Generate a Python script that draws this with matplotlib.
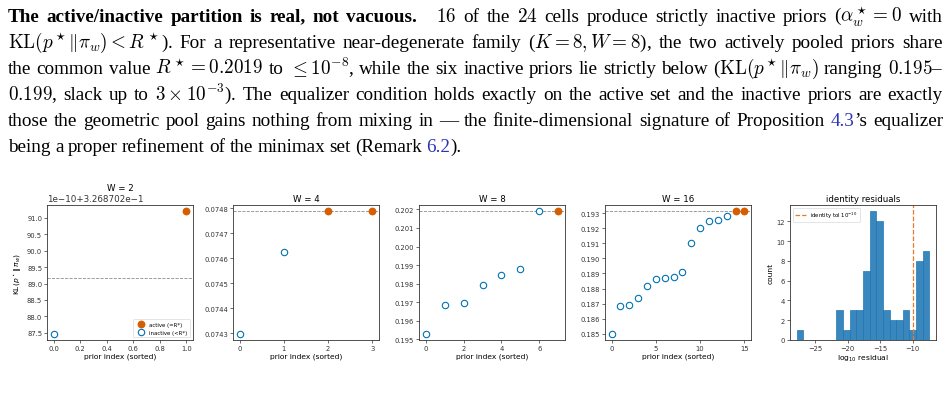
import re
import numpy as np
import matplotlib
matplotlib.use("Agg")
import matplotlib.pyplot as plt
from matplotlib.colors import to_rgba

# ---- data ----
w2_kl = [0.32687020874700, 0.32687020912000]
w2_rstar = 0.32687020891800
w2_active = [False, True]

w4_kl = [0.074297, 0.074624, 0.074789, 0.074789]
w4_rstar = 0.074789
w4_active = [False, False, True, True]

w8_kl = [0.195287, 0.196819, 0.196948, 0.197901, 0.198480, 0.198768, 0.201908, 0.201908]
w8_rstar = 0.201908
w8_active = [False] * 7 + [True]

w16_kl = [0.185000, 0.186861, 0.186928, 0.187347, 0.188145, 0.188636, 0.188680, 0.188747,
          0.189126, 0.191030, 0.192027, 0.192467, 0.192560, 0.192826, 0.193131, 0.193131]
w16_rstar = 0.193131
w16_active = [False] * 14 + [True, True]

resid_edges = np.linspace(-27.8, -7.45, 21)
resid_counts = [1, 0, 0, 0, 0, 0, 3, 1, 3, 3, 7, 13, 12, 3, 2, 2, 3, 1, 8, 9]
tol_log10 = -10

panels = [("W = 2", w2_kl, w2_rstar, w2_active, np.arange(0, 1.01, 0.2)),
          ("W = 4", w4_kl, w4_rstar, w4_active, [0, 1, 2, 3]),
          ("W = 8", w8_kl, w8_rstar, w8_active, [0, 2, 4, 6]),
          ("W = 16", w16_kl, w16_rstar, w16_active, [0, 5, 10, 15])]

para = [
    [("The active/inactive partition is real, not vacuous.", 'b'), ("", 'quad'),
     (r" $16$ of the $24$ cells produce strictly inactive priors ($\alpha^\star_w = 0$ with", 'n')],
    [(r"$\mathrm{KL}(p^\star\|\pi_w) < R^\star$). For a representative near-degenerate family ($K = 8, W = 8$), the two actively pooled priors share", 'n')],
    [(r"the common value $R^\star = 0.2019$ to $\leq 10^{-8}$, while the six inactive priors lie strictly below ($\mathrm{KL}(p^\star\|\pi_w)$ ranging $0.195$–", 'n')],
    [(r"$0.199$, slack up to $3 \times 10^{-3}$). The equalizer condition holds exactly on the active set and the inactive priors are exactly", 'n')],
    [("those the geometric pool gains nothing from mixing in — the finite-dimensional signature of Proposition ", 'n'),
     ("4.3", 'link'), ("’s equalizer", 'n')],
    [("being a proper refinement of the minimax set (Remark ", 'n'), ("6.2", 'link'), (").", 'n')],
]

W_PX, H_PX = 951, 402
fig = plt.figure(figsize=(W_PX / 100, H_PX / 100), dpi=100)
renderer = fig.canvas.get_renderer()


def split_words(segments):
    words, cur, pads = [], [], []
    for txt, style in segments:
        if style == 'quad':
            if cur:
                words.append(cur)
                pads.append(12)
                cur = []
            continue
        for tok in re.findall(r'(?:\$[^$]*\$|[^\s$])+|\s+', txt):
            if tok.isspace():
                if cur:
                    words.append(cur)
                    pads.append(0)
                    cur = []
            else:
                cur.append((tok, style))
    if cur:
        words.append(cur)
        pads.append(0)
    return words, pads


def put_line(segments, base_px, justify=True, x0=8, x1=943, size=13.8):
    words, pads = split_words(segments)
    arts = []
    widths = []
    for w in words:
        row = []
        tot = 0
        for tok, style in w:
            kw = dict(fontsize=size, family='Liberation Serif', va='baseline', ha='left',
                      math_fontfamily='cm')
            if style == 'b':
                kw['fontweight'] = 'bold'
            if style == 'link':
                kw['color'] = '#2b35b5'
            t = fig.text(0, 0, tok, **kw)
            wd = t.get_window_extent(renderer).width
            row.append((t, wd))
            tot += wd
        arts.append(row)
        widths.append(tot)
    total = sum(widths) + sum(pads)
    gap = (x1 - x0 - total) / (len(words) - 1) if justify else 4.4
    x = x0
    y = 1 - base_px / H_PX
    for row, wd, pd in zip(arts, widths, pads):
        xx = x
        for t, w in row:
            t.set_position((xx / W_PX, y))
            xx += w
        x += wd + pd + gap


for i, seg in enumerate(para):
    put_line(seg, 21.7 + 26 * i, justify=(i < len(para) - 1))

# ---- panels ----
ACT = '#D55E00'
INA = '#0072B2'
lefts = [47, 233, 419, 605, 790]
ax_w, top, bot = 146, 206, 341

axes = []
for lx in lefts:
    axes.append(fig.add_axes([lx / W_PX, 1 - bot / H_PX, ax_w / W_PX, (bot - top) / H_PX]))

for ax in axes:
    for s in ax.spines.values():
        s.set_linewidth(0.6)
        s.set_color('#333333')
    ax.tick_params(labelsize=4.9, width=0.5, length=2, pad=1.5, colors='#333333')

for ax, (title, kl, rstar, active, xt) in zip(axes[:4], panels):
    idx = np.arange(len(kl))
    kl = np.array(kl)
    act = np.array(active)
    ax.axhline(rstar, color='0.55', ls='--', lw=0.6, zorder=1)
    ax.plot(idx[act], kl[act], 'o', color=ACT, ms=4.6, label='active (=R*)', zorder=3)
    ax.plot(idx[~act], kl[~act], 'o', mfc='white', mec=INA, mew=0.8, ms=4.6,
            label='inactive (<R*)', zorder=3)
    ax.set_xticks(xt)
    ax.set_title(title, fontsize=6.2, pad=3)
    ax.set_xlabel('prior index (sorted)', fontsize=5.4, labelpad=1.5)

axes[0].set_ylabel(r'KL$(p^\star\,\|\,\pi_w)$', fontsize=5.4, labelpad=2)
axes[0].yaxis.get_offset_text().set_fontsize(6.3)
axes[0].legend(loc='lower right', fontsize=3.9, handletextpad=0.6, borderpad=0.5,
               framealpha=0.9, edgecolor='0.8').get_frame().set_linewidth(0.4)

hx = axes[4]
hx.bar(resid_edges[:-1], resid_counts, width=np.diff(resid_edges), align='edge',
       facecolor=to_rgba('C0', 0.88), edgecolor='C0', linewidth=0.5)
hx.axvline(tol_log10, color='#E8782A', ls='--', lw=0.9, label=r'identity tol $10^{-10}$')
hx.set_title('identity residuals', fontsize=6.2, pad=3)
hx.set_xlabel(r'log$_{10}$ residual', fontsize=5.4, labelpad=1.5)
hx.set_ylabel('count', fontsize=5.4, labelpad=2)
hx.set_xticks([-25, -20, -15, -10])
hx.set_yticks(range(0, 13, 2))
hx.legend(loc='upper left', fontsize=3.9, framealpha=0.9,
          edgecolor='0.8').get_frame().set_linewidth(0.4)

fig.savefig('out.png', dpi=100)
